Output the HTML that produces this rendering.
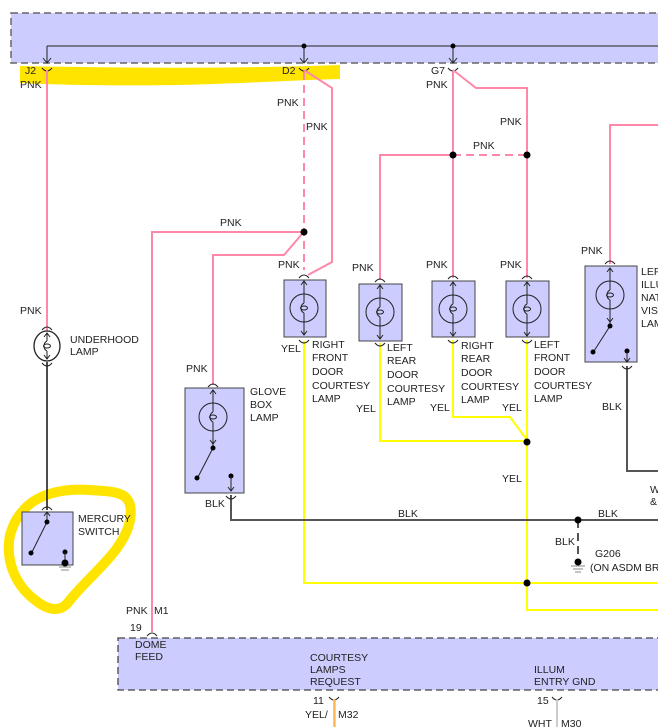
<!DOCTYPE html>
<html><head><meta charset="utf-8"><style>
html,body{margin:0;padding:0;background:#fff;}
svg{display:block;font-family:"Liberation Sans",sans-serif;font-size:10.5px;}
text{fill:#222;}
</style></head><body>
<svg width="658" height="727" viewBox="0 0 658 727" xmlns="http://www.w3.org/2000/svg">
<defs>
<g id="lamp">
 <circle cx="0" cy="0" r="14" fill="none" stroke="#222" stroke-width="1"/>
 <line x1="0" y1="-27" x2="0" y2="-5" stroke="#222"/>
 <line x1="0" y1="5" x2="0" y2="27" stroke="#222"/>
 <path d="M0,-5 C-4,-3 -4,3 0,5" fill="none" stroke="#222"/>
 <ellipse cx="0" cy="0" rx="3.5" ry="2" fill="none" stroke="#222"/>
 <path d="M-3,-23 L0,-27 L3,-23 M-3,23 L0,27 L3,23" fill="none" stroke="#222"/>
</g>
<path id="cup" d="M-5,0 Q0,-6 5,0" fill="none" stroke="#222"/>
<path id="cupd" d="M-5,0 Q0,6 5,0" fill="none" stroke="#222"/>
</defs>

<!-- top box -->
<rect x="11" y="13" width="660" height="50" fill="#ccccff" stroke="#666" stroke-dasharray="7,4" stroke-width="1.5"/>
<line x1="47" y1="46" x2="658" y2="46" stroke="#222"/>
<line x1="47" y1="46" x2="47" y2="63" stroke="#222"/>
<line x1="304" y1="46" x2="304" y2="63" stroke="#222"/>
<line x1="453" y1="46" x2="453" y2="63" stroke="#222"/>
<path d="M43,58 L47,63 L51,58 M300,58 L304,63 L308,58 M449,58 L453,63 L457,58" fill="none" stroke="#222"/>
<circle cx="304" cy="46" r="2.5" fill="#000"/><circle cx="453" cy="46" r="2.5" fill="#000"/>

<!-- highlight -->
<path d="M20,66 C120,68 230,69 340,65 L340,79 C300,80 250,83 180,85 C120,86 60,85 20,83 Z" fill="#ffe400"/>
<path d="M22,512 C35,495 60,488 90,490 C115,492 135,490 130,520 C125,550 90,575 70,600 C62,612 50,612 35,600 C15,585 5,560 10,535 C14,522 18,516 22,512" fill="none" stroke="#ffe400" stroke-width="10"/>

<!-- connector cups top -->
<use href="#cupd" x="47" y="68"/><use href="#cupd" x="304" y="68"/><use href="#cupd" x="453" y="68"/>
<text x="25" y="74">J2</text><text x="20" y="88">PNK</text>
<text x="282" y="74">D2</text>
<text x="431" y="74">G7</text><text x="426" y="88">PNK</text>

<!-- pink wires -->
<g stroke="#ff88a8" stroke-width="2" fill="none">
 <line x1="47" y1="70" x2="47" y2="331"/>
 <line x1="304" y1="72" x2="304" y2="270" stroke-dasharray="8,5"/>
 <path d="M304,70 L332,88 L332,262 L308,275"/>
 <path d="M304,232 L152,232 L152,632"/>
 <path d="M302,234 L284,255 L213,255 L213,385"/>
 <path d="M380,280 L380,155 L453,155"/>
 <line x1="453" y1="155" x2="527" y2="155" stroke-dasharray="8,5"/>
 <line x1="453" y1="72" x2="453" y2="278"/>
 <path d="M453,70 L476,88 L527,88 L527,278"/>
 <path d="M610,264 L610,125 L658,125"/>
</g>
<circle cx="304" cy="232" r="3.5" fill="#000"/>
<circle cx="453" cy="155" r="3.5" fill="#000"/>
<circle cx="527" cy="155" r="3.5" fill="#000"/>

<text x="277" y="106">PNK</text><text x="306" y="130">PNK</text>
<text x="500" y="125">PNK</text><text x="473" y="149">PNK</text>
<text x="220" y="226">PNK</text>
<text x="278" y="268">PNK</text><text x="352" y="271">PNK</text><text x="426" y="268">PNK</text><text x="500" y="268">PNK</text>
<text x="581" y="254">PNK</text><text x="186" y="372">PNK</text><text x="20" y="314">PNK</text>

<!-- yellow wires -->
<g stroke="#ffff00" stroke-width="2" fill="none">
 <path d="M304,341 L304,583 L658,583"/>
 <path d="M380,343 L380,441 L527,441"/>
 <path d="M453,340 L453,417 L510,417 L527,440"/>
 <path d="M527,340 L527,610 L658,610"/>
</g>
<circle cx="527" cy="442" r="3.5" fill="#000"/>
<circle cx="527" cy="583" r="3.5" fill="#000"/>
<text x="281" y="352">YEL</text><text x="356" y="412">YEL</text><text x="430" y="411">YEL</text><text x="502" y="411">YEL</text><text x="502" y="482">YEL</text>

<!-- BLK wires -->
<g stroke="#555" stroke-width="2" fill="none">
 <path d="M231,495 L231,520 L658,520"/>
 <path d="M627,366 L627,471 L658,471"/>
 <line x1="578" y1="520" x2="578" y2="560" stroke-dasharray="8,5"/>
</g>
<circle cx="578" cy="520" r="3.5" fill="#000"/>
<circle cx="578" cy="562" r="3.5" fill="#000"/>
<path d="M571,566 L585,566 M573,569 L583,569 M575,572 L581,572" stroke="#888"/>
<text x="205" y="507">BLK</text><text x="398" y="517">BLK</text><text x="598" y="517">BLK</text>
<text x="555" y="545">BLK</text><text x="595" y="557">G206</text><text x="590" y="571">(ON ASDM BR</text>
<text x="602" y="410">BLK</text><text x="650" y="493">W</text><text x="650" y="505">&amp;</text>

<!-- underhood lamp -->
<line x1="47" y1="362" x2="47" y2="510" stroke="#111" stroke-width="1.5"/>
<ellipse cx="47" cy="346" rx="13" ry="15" fill="none" stroke="#222" stroke-width="1.3"/>
<line x1="47" y1="333" x2="47" y2="341" stroke="#222"/><line x1="47" y1="351" x2="47" y2="359" stroke="#222"/>
<path d="M47,341 C43,343 43,349 47,351" fill="none" stroke="#222"/>
<ellipse cx="47" cy="346" rx="3.5" ry="2" fill="none" stroke="#222"/>
<path d="M44,337 L47,333 L50,337 M44,355 L47,359 L50,355" fill="none" stroke="#222"/>
<use href="#cup" x="47" y="330"/><use href="#cupd" x="47" y="363"/>
<text x="70" y="343">UNDERHOOD</text><text x="70" y="355">LAMP</text>

<!-- mercury switch -->
<use href="#cup" x="47" y="510"/>
<rect x="22" y="512" width="51" height="53" fill="#ccccff" stroke="#444"/>
<path d="M47,512 L47,522 M44,516 L47,512 L50,516" stroke="#222" fill="none"/>
<line x1="47" y1="522" x2="32" y2="552" stroke="#222"/>
<circle cx="47" cy="522" r="2.5" fill="#000"/><circle cx="31" cy="553" r="2.5" fill="#000"/>
<circle cx="65" cy="552" r="2.5" fill="#000"/><line x1="65" y1="552" x2="65" y2="562" stroke="#222"/>
<circle cx="65" cy="563" r="3.5" fill="#000"/>
<path d="M59,567 L71,567 M61,570 L69,570" stroke="#888"/>
<text x="78" y="522">MERCURY</text><text x="78" y="535">SWITCH</text>

<!-- glove box -->
<use href="#cup" x="213" y="387"/>
<rect x="185" y="388" width="59" height="105" fill="#ccccff" stroke="#444"/>
<use href="#lamp" x="213" y="417"/>
<line x1="213" y1="444" x2="213" y2="448" stroke="#222"/>
<line x1="213" y1="448" x2="198" y2="477" stroke="#222"/>
<circle cx="213" cy="448" r="2.5" fill="#000"/><circle cx="197" cy="478" r="2.5" fill="#000"/>
<circle cx="231" cy="476" r="2.5" fill="#000"/>
<path d="M231,476 L231,491 M228,487 L231,491 L234,487" stroke="#222" fill="none"/>
<use href="#cupd" x="231" y="496"/>
<text x="250" y="395">GLOVE</text><text x="250" y="408">BOX</text><text x="250" y="421">LAMP</text>

<!-- door lamps -->
<g>
<use href="#cup" x="304" y="278"/><rect x="284" y="280" width="42" height="57" fill="#ccccff" stroke="#444"/><use href="#lamp" x="304" y="308"/><use href="#cupd" x="304" y="340"/>
<use href="#cup" x="380" y="282"/><rect x="359" y="284" width="43" height="57" fill="#ccccff" stroke="#444"/><use href="#lamp" x="380" y="312"/><use href="#cupd" x="380" y="343"/>
<use href="#cup" x="453" y="279"/><rect x="432" y="281" width="43" height="56" fill="#ccccff" stroke="#444"/><use href="#lamp" x="453" y="309"/><use href="#cupd" x="453" y="340"/>
<use href="#cup" x="527" y="279"/><rect x="506" y="281" width="43" height="56" fill="#ccccff" stroke="#444"/><use href="#lamp" x="527" y="309"/><use href="#cupd" x="527" y="340"/>
</g>
<text x="312" y="348">RIGHT</text><text x="312" y="361">FRONT</text><text x="312" y="375">DOOR</text><text x="312" y="389">COURTESY</text><text x="312" y="402">LAMP</text>
<text x="387" y="351">LEFT</text><text x="387" y="364">REAR</text><text x="387" y="378">DOOR</text><text x="387" y="392">COURTESY</text><text x="387" y="405">LAMP</text>
<text x="461" y="349">RIGHT</text><text x="461" y="362">REAR</text><text x="461" y="376">DOOR</text><text x="461" y="390">COURTESY</text><text x="461" y="403">LAMP</text>
<text x="534" y="348">LEFT</text><text x="534" y="361">FRONT</text><text x="534" y="375">DOOR</text><text x="534" y="389">COURTESY</text><text x="534" y="402">LAMP</text>

<!-- visor lamp -->
<use href="#cup" x="610" y="264"/>
<rect x="585" y="266" width="52" height="96" fill="#ccccff" stroke="#444"/>
<use href="#lamp" x="610" y="295"/>
<line x1="610" y1="322" x2="610" y2="325" stroke="#222"/>
<line x1="610" y1="326" x2="594" y2="351" stroke="#222"/>
<circle cx="610" cy="326" r="2.5" fill="#000"/><circle cx="593" cy="352" r="2.5" fill="#000"/>
<circle cx="627" cy="351" r="2.5" fill="#000"/>
<path d="M627,351 L627,362 M624,358 L627,362 L630,358" stroke="#222" fill="none"/>
<use href="#cupd" x="627" y="366"/>
<text x="641" y="275">LEFT</text><text x="641" y="288">ILLUMI</text><text x="641" y="301">NATED</text><text x="641" y="314">VISOR</text><text x="641" y="327">LAMP</text>

<!-- bottom box -->
<rect x="118" y="638" width="560" height="52" fill="#ccccff" stroke="#444" stroke-dasharray="7,4" stroke-width="1.3"/>
<use href="#cup" x="152" y="636"/>
<text x="126" y="614">PNK</text><text x="154" y="614">M1</text><text x="130" y="631">19</text>
<text x="135" y="648">DOME</text><text x="135" y="660">FEED</text>
<text x="310" y="661">COURTESY</text><text x="310" y="673">LAMPS</text><text x="310" y="685">REQUEST</text>
<text x="534" y="673">ILLUM</text><text x="534" y="685">ENTRY GND</text>
<use href="#cupd" x="334" y="697"/><use href="#cupd" x="557" y="697"/>
<text x="313" y="704">11</text><text x="537" y="704">15</text>
<line x1="334" y1="699" x2="334" y2="727" stroke="#ffdd00" stroke-width="2"/>
<line x1="335" y1="699" x2="335" y2="727" stroke="#ff88a8" stroke-width="1"/>
<line x1="557" y1="699" x2="557" y2="727" stroke="#ccc" stroke-width="2"/>
<text x="305" y="718">YEL/</text><text x="338" y="718">M32</text>
<text x="528" y="727">WHT</text><text x="561" y="727">M30</text>
</svg>
</body></html>
